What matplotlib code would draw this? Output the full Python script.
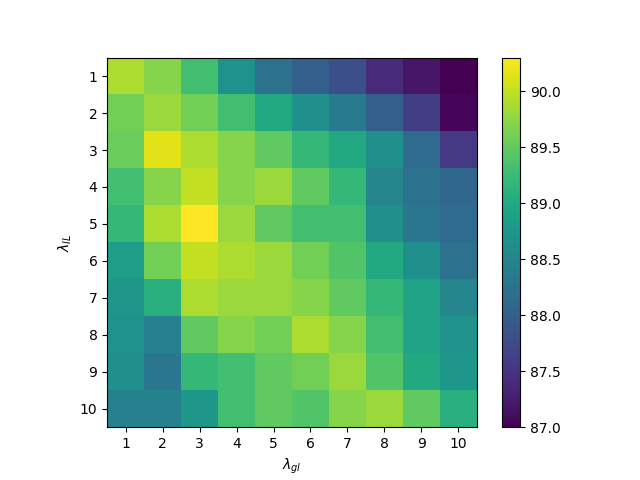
import numpy as np
import matplotlib
matplotlib.use("Agg")
import matplotlib.pyplot as plt

lambda_gl = list(range(1, 11))
lambda_il = list(range(1, 11))

# accuracy per (lambda_IL row, lambda_gl column)
row_1 = [89.9, 89.7, 89.3, 88.7, 88.25, 88.0, 87.8, 87.4, 87.2, 87.0]
row_2 = [89.6, 89.8, 89.6, 89.3, 89.0, 88.65, 88.35, 88.0, 87.6, 87.05]
row_3 = [89.55, 90.15, 89.9, 89.7, 89.5, 89.2, 89.0, 88.65, 88.15, 87.55]
row_4 = [89.3, 89.7, 90.0, 89.7, 89.8, 89.5, 89.2, 88.5, 88.25, 88.1]
row_5 = [89.2, 89.9, 90.3, 89.8, 89.5, 89.3, 89.3, 88.65, 88.3, 88.15]
row_6 = [88.85, 89.6, 90.0, 89.9, 89.8, 89.6, 89.4, 89.0, 88.65, 88.25]
row_7 = [88.75, 89.1, 89.9, 89.8, 89.8, 89.7, 89.5, 89.2, 88.9, 88.5]
row_8 = [88.7, 88.45, 89.5, 89.7, 89.6, 89.9, 89.7, 89.3, 88.9, 88.7]
row_9 = [88.65, 88.3, 89.2, 89.3, 89.5, 89.6, 89.8, 89.4, 89.0, 88.75]
row_10 = [88.45, 88.45, 88.75, 89.3, 89.5, 89.4, 89.7, 89.8, 89.5, 89.1]

grid = np.array([row_1, row_2, row_3, row_4, row_5,
                 row_6, row_7, row_8, row_9, row_10])

fig, ax = plt.subplots(figsize=(6.4, 4.8), dpi=100)
im = ax.imshow(grid, cmap="viridis")
fig.colorbar(im, ax=ax)
ax.set_xticks(range(len(lambda_gl)), [str(v) for v in lambda_gl])
ax.set_yticks(range(len(lambda_il)), [str(v) for v in lambda_il])
ax.set_xlabel(r"$\lambda_{gl}$")
ax.set_ylabel(r"$\lambda_{IL}$")
fig.savefig("out.png", dpi=100)
